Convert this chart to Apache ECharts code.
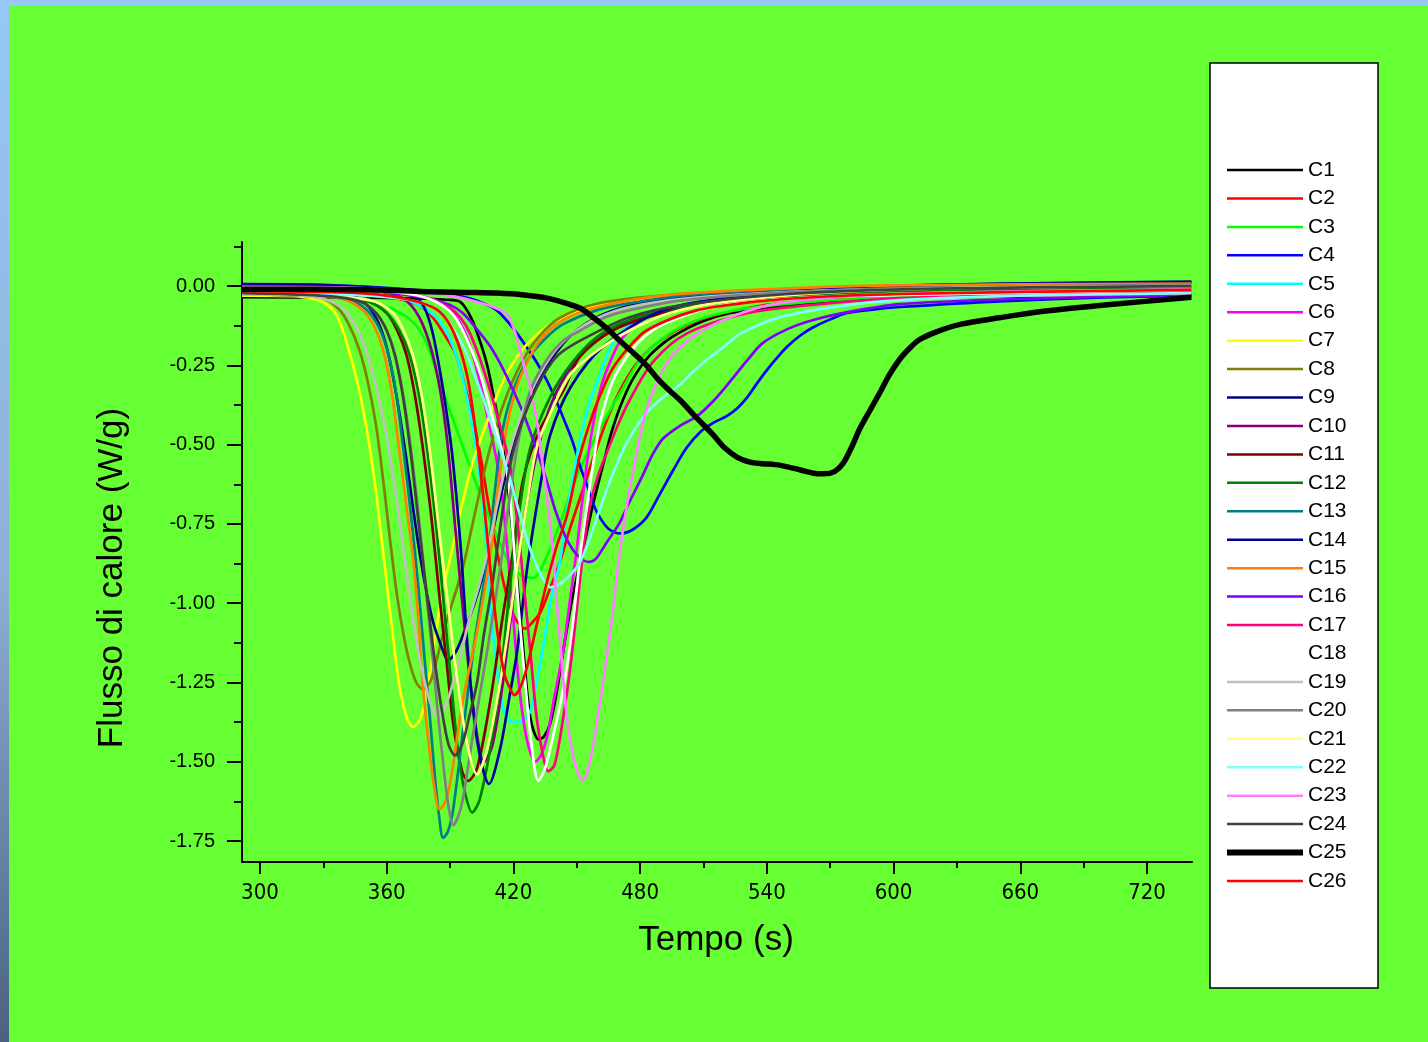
<!DOCTYPE html>
<html>
<head>
<meta charset="utf-8">
<script src="https://cdn.jsdelivr.net/npm/echarts@6/dist/echarts.min.js"></script>
<style>html,body{margin:0;padding:0;background:#66ff33;}#chart{width:1428px;height:1042px;}</style>
</head>
<body>
<div id="chart"></div>
<script>
// ---- tick values ----
const X_MAJOR = [300, 360, 420, 480, 540, 600, 660, 720];
const X_MINOR = [330, 390, 450, 510, 570, 630, 690];
const Y_MAJOR = [0, -0.25, -0.5, -0.75, -1, -1.25, -1.5, -1.75];
const Y_MINOR = [0.125, -0.125, -0.375, -0.625, -0.875, -1.125, -1.375, -1.625];

const SERIES_NAMES = ['C1','C2','C3','C4','C5','C6','C7','C8','C9','C10','C11','C12','C13',
  'C14','C15','C16','C17','C18','C19','C20','C21','C22','C23','C24','C25','C26'];

// ---- series data: [time (s), heat flow (W/g)] ----
const C1 = [[291.5,-0.035],[340,-0.036],[365,-0.038],[380,-0.04],[388,-0.043],[394.8,-0.05],[400,-0.1],[404,-0.17],[407.6,-0.25],[411,-0.36],[415,-0.5],[418.5,-0.7],[421.8,-0.93],[424.6,-1.14],[428,-1.36],[432,-1.43],[434.5,-1.42],[437.4,-1.38],[440.5,-1.28],[443.6,-1.15],[448,-0.98],[453,-0.83],[458,-0.68],[462.6,-0.56],[466.5,-0.46],[470.6,-0.38],[476,-0.3],[483,-0.23],[491,-0.18],[499,-0.145],[510,-0.11],[522.7,-0.085],[540,-0.068],[562,-0.054],[603,-0.038],[660,-0.033],[741,-0.03]];
const C2 = [[291.5,-0.016],[330,-0.018],[350,-0.025],[365,-0.04],[375,-0.06],[382,-0.1],[388,-0.16],[393,-0.22],[399.5,-0.38],[404,-0.52],[408,-0.68],[412,-0.83],[417,-0.98],[421,-1.05],[425.6,-1.08],[429,-1.06],[432.7,-1.03],[437,-0.96],[442,-0.87],[447,-0.76],[453,-0.64],[459,-0.52],[465,-0.41],[472,-0.31],[480,-0.23],[490,-0.17],[503,-0.12],[520,-0.085],[545,-0.055],[603,-0.03],[660,-0.024],[741,-0.02]];
const C3 = [[291.5,-0.02],[330,-0.025],[350,-0.04],[362,-0.07],[370,-0.1],[375.8,-0.14],[380,-0.2],[385,-0.3],[393,-0.45],[399.5,-0.57],[405,-0.67],[411,-0.77],[417,-0.86],[423,-0.91],[429.4,-0.92],[436,-0.85],[442,-0.75],[450,-0.6],[461,-0.45],[472,-0.32],[481.5,-0.22],[499,-0.13],[522,-0.08],[560,-0.05],[603,-0.035],[660,-0.03],[741,-0.025]];
const C4 = [[291.5,0.005],[340,0.0],[370,-0.01],[390,-0.025],[400,-0.04],[406,-0.055],[412,-0.076],[417,-0.11],[421.8,-0.15],[426,-0.19],[431,-0.24],[436,-0.3],[440.8,-0.37],[444.5,-0.43],[448,-0.49],[451.7,-0.57],[455,-0.63],[458,-0.69],[461,-0.73],[465,-0.765],[470.6,-0.78],[476,-0.77],[483,-0.73],[489,-0.66],[495.7,-0.58],[502,-0.51],[508.5,-0.46],[515,-0.43],[521,-0.41],[526,-0.385],[530.8,-0.35],[535,-0.31],[540,-0.265],[545,-0.225],[549.8,-0.19],[556,-0.155],[562,-0.13],[570,-0.105],[578,-0.085],[590,-0.074],[603,-0.066],[650,-0.048],[700,-0.036],[741,-0.03]];
const C5 = [[291.5,-0.02],[340,-0.022],[360,-0.03],[372,-0.05],[382,-0.09],[388,-0.14],[393.5,-0.23],[398,-0.35],[402,-0.5],[406,-0.72],[409.5,-1.03],[412.5,-1.22],[415,-1.33],[418,-1.37],[421,-1.375],[424.5,-1.37],[428,-1.34],[431,-1.25],[434,-1.14],[438,-0.98],[442,-0.87],[445,-0.73],[448,-0.61],[451.7,-0.48],[455.5,-0.38],[459.7,-0.3],[467,-0.18],[475,-0.12],[483,-0.085],[500,-0.06],[514.7,-0.044],[550,-0.025],[603,-0.006],[741,0.0]];
const C6 = [[291.5,-0.005],[340,-0.008],[360,-0.015],[375,-0.03],[385,-0.05],[392,-0.09],[398,-0.16],[403,-0.27],[408,-0.42],[413.7,-0.61],[417,-0.82],[420,-1.05],[422.5,-1.25],[425,-1.38],[427.5,-1.46],[430.3,-1.5],[433,-1.48],[436,-1.42],[439,-1.31],[443.6,-1.15],[447,-0.98],[450,-0.83],[455,-0.55],[461,-0.33],[467,-0.22],[472,-0.16],[483,-0.098],[500,-0.065],[514.7,-0.05],[560,-0.025],[603,-0.013],[741,-0.005]];
const C7 = [[291.5,-0.03],[315,-0.032],[325,-0.04],[332,-0.06],[337,-0.1],[342,-0.2],[346,-0.3],[350,-0.43],[354,-0.6],[358,-0.82],[362,-1.05],[366,-1.26],[369.5,-1.36],[372.5,-1.39],[375.5,-1.37],[378.5,-1.3],[382,-1.15],[386,-0.98],[391,-0.83],[396,-0.68],[401,-0.55],[408,-0.42],[415,-0.3],[422,-0.22],[430,-0.16],[440,-0.11],[455,-0.07],[475,-0.045],[500,-0.03],[540,-0.018],[600,-0.008],[660,-0.002],[741,0.005]];
const C8 = [[291.5,-0.02],[320,-0.025],[330,-0.038],[337,-0.07],[342,-0.12],[347,-0.2],[351,-0.3],[355,-0.44],[358.5,-0.62],[361.6,-0.8],[365,-0.98],[368,-1.1],[371,-1.19],[374,-1.25],[377,-1.27],[380.5,-1.25],[384,-1.17],[387,-1.09],[391,-1.0],[396,-0.89],[401,-0.74],[405,-0.62],[409,-0.51],[416,-0.36],[424,-0.24],[432,-0.16],[442,-0.1],[460,-0.055],[490,-0.03],[540,-0.012],[600,0.0],[741,0.008]];
const C9 = [[291.5,0.005],[320,0.0],[335,-0.01],[345,-0.03],[352,-0.07],[357,-0.13],[361,-0.22],[365,-0.36],[369,-0.53],[372.5,-0.7],[375.8,-0.85],[379,-0.97],[382,-1.06],[386.7,-1.15],[389,-1.18],[393,-1.15],[399.5,-1.04],[403.5,-0.96],[407.6,-0.86],[412,-0.72],[417,-0.58],[423,-0.44],[430,-0.32],[438,-0.23],[448,-0.15],[462,-0.09],[480,-0.055],[510,-0.03],[560,-0.01],[620,0.004],[741,0.012]];
const C10 = [[291.5,0.003],[340,-0.005],[360,-0.02],[370,-0.05],[377,-0.12],[383,-0.25],[388,-0.45],[393,-0.8],[398,-1.15],[402,-1.38],[406,-1.5],[410,-1.45],[415,-1.25],[420,-0.98],[425,-0.74],[431,-0.53],[438,-0.37],[448,-0.25],[462,-0.16],[480,-0.1],[510,-0.055],[560,-0.025],[640,-0.008],[741,0.0]];
const C11 = [[291.5,-0.02],[320,-0.025],[340,-0.035],[352,-0.05],[360,-0.085],[365,-0.14],[369.5,-0.22],[373.5,-0.35],[377.5,-0.53],[381.5,-0.75],[385,-0.98],[388.6,-1.2],[391.5,-1.38],[395.7,-1.53],[398.6,-1.56],[402.8,-1.52],[409,-1.31],[415,-1.04],[420,-0.83],[424.6,-0.61],[432.7,-0.45],[443.6,-0.33],[451.7,-0.22],[467,-0.14],[491,-0.085],[520,-0.05],[570,-0.02],[640,-0.005],[741,0.0]];
const C12 = [[291.5,-0.02],[320,-0.025],[340,-0.035],[352,-0.05],[360,-0.085],[366,-0.14],[371,-0.22],[375.5,-0.35],[379.5,-0.53],[383.5,-0.76],[387,-1.0],[390.5,-1.25],[393.5,-1.45],[396.5,-1.58],[400.5,-1.66],[404,-1.62],[409,-1.46],[413.7,-1.25],[418.5,-0.94],[423,-0.7],[428,-0.51],[437.4,-0.35],[448,-0.24],[459.7,-0.16],[475,-0.107],[500,-0.065],[540,-0.035],[600,-0.015],[741,-0.005]];
const C13 = [[291.5,-0.025],[320,-0.03],[335,-0.035],[345,-0.05],[352,-0.085],[357,-0.14],[361,-0.22],[364.5,-0.34],[368,-0.52],[371.5,-0.72],[375,-0.95],[378,-1.18],[380.6,-1.37],[383,-1.56],[385,-1.68],[386.7,-1.74],[389,-1.72],[391.5,-1.65],[396,-1.41],[401,-1.15],[404,-1.02],[407.6,-0.87],[411,-0.66],[415,-0.45],[421,-0.31],[428,-0.22],[436,-0.16],[443.6,-0.12],[460,-0.075],[475,-0.054],[500,-0.03],[550,-0.01],[620,0.0],[741,0.005]];
const C14 = [[291.5,0.006],[330,0.004],[355,-0.005],[368,-0.015],[374,-0.035],[378,-0.07],[381.5,-0.14],[384.5,-0.24],[387.5,-0.36],[391,-0.53],[395,-0.82],[399,-1.2],[403,-1.44],[408.5,-1.57],[413.7,-1.46],[418,-1.3],[421.8,-1.15],[426.5,-0.89],[432.7,-0.63],[437.4,-0.47],[447,-0.32],[462.6,-0.19],[491,-0.076],[530,-0.03],[600,0.0],[741,0.014]];
const C15 = [[291.5,-0.025],[320,-0.03],[335,-0.035],[343,-0.05],[350,-0.085],[355,-0.14],[359,-0.22],[362.5,-0.34],[366,-0.52],[369.5,-0.7],[372.5,-0.86],[375,-1.05],[377,-1.25],[380,-1.45],[382.5,-1.58],[385,-1.65],[387.5,-1.63],[390,-1.57],[396,-1.31],[402.8,-1.09],[409,-0.85],[413,-0.62],[417,-0.44],[421,-0.33],[425,-0.26],[432.7,-0.17],[443.6,-0.107],[460,-0.066],[491,-0.03],[540,-0.01],[600,0.002],[741,0.008]];
const C16 = [[291.5,0.0],[340,-0.005],[360,-0.02],[380,-0.04],[390,-0.06],[396,-0.085],[402,-0.13],[409,-0.19],[415,-0.26],[420,-0.33],[424,-0.39],[428,-0.46],[432.7,-0.55],[436,-0.62],[440,-0.71],[444,-0.78],[448,-0.83],[452,-0.86],[455.5,-0.87],[459,-0.86],[464,-0.81],[470,-0.75],[475,-0.68],[481,-0.6],[486,-0.53],[491,-0.48],[499,-0.44],[507,-0.41],[515,-0.36],[522.7,-0.3],[530,-0.24],[538,-0.18],[550,-0.135],[562,-0.107],[580,-0.08],[603,-0.057],[660,-0.04],[741,-0.028]];
const C17 = [[291.5,-0.01],[340,-0.013],[365,-0.02],[380,-0.04],[390,-0.07],[395,-0.1],[399.5,-0.15],[405.7,-0.26],[412,-0.4],[418.5,-0.57],[422,-0.75],[425,-0.95],[428,-1.15],[431,-1.36],[434,-1.48],[436.5,-1.53],[439.5,-1.51],[443.6,-1.36],[447,-1.2],[450,-1.02],[453,-0.84],[456,-0.7],[460,-0.6],[464.5,-0.52],[470,-0.43],[475,-0.36],[486,-0.24],[502,-0.15],[531,-0.085],[560,-0.06],[603,-0.038],[660,-0.03],[741,-0.025]];
const C18 = [[291.5,-0.01],[340,-0.012],[365,-0.02],[380,-0.04],[390,-0.08],[396,-0.14],[404,-0.27],[410.4,-0.42],[417,-0.59],[420,-0.8],[422.5,-1.02],[425.6,-1.25],[428.5,-1.44],[431.8,-1.56],[434.5,-1.53],[437.4,-1.46],[443.6,-1.27],[448,-1.07],[452,-0.83],[455.5,-0.66],[458.5,-0.53],[461,-0.43],[467,-0.3],[474,-0.22],[482,-0.16],[491,-0.12],[514.7,-0.066],[550,-0.04],[603,-0.028],[741,-0.012]];
const C19 = [[291.5,-0.025],[320,-0.03],[330,-0.04],[338,-0.065],[344,-0.11],[349,-0.18],[354,-0.29],[359,-0.44],[364,-0.64],[368.5,-0.86],[372.5,-1.05],[376,-1.19],[380.5,-1.31],[384,-1.36],[387.5,-1.33],[391.5,-1.25],[395.5,-1.15],[399.5,-1.04],[403.5,-0.95],[407,-0.86],[412,-0.7],[417,-0.55],[423,-0.42],[430,-0.31],[439,-0.21],[448,-0.15],[460,-0.1],[475,-0.066],[500,-0.04],[550,-0.018],[620,-0.006],[741,0.0]];
const C20 = [[291.5,-0.02],[320,-0.025],[337,-0.035],[348,-0.05],[355,-0.085],[360,-0.14],[364,-0.22],[368,-0.35],[372,-0.54],[376,-0.78],[380,-1.05],[384,-1.33],[387.5,-1.55],[389.5,-1.65],[391.5,-1.7],[394,-1.67],[396,-1.62],[401,-1.41],[407.6,-1.15],[413.7,-0.89],[418,-0.68],[422,-0.5],[428,-0.33],[436,-0.23],[444,-0.17],[451.7,-0.14],[463,-0.1],[475,-0.076],[500,-0.045],[550,-0.02],[620,-0.005],[741,0.005]];
const C21 = [[291.5,-0.02],[320,-0.025],[342,-0.035],[355,-0.05],[363,-0.085],[368,-0.14],[372.5,-0.22],[377,-0.36],[381,-0.55],[385,-0.78],[389,-1.0],[393,-1.22],[398,-1.44],[402.8,-1.54],[407.6,-1.46],[413.7,-1.25],[418.5,-1.04],[423,-0.83],[427,-0.66],[431,-0.51],[438.9,-0.38],[448,-0.27],[462.6,-0.19],[475,-0.14],[494,-0.085],[520,-0.05],[570,-0.02],[640,-0.005],[741,0.0]];
const C22 = [[291.5,-0.025],[340,-0.028],[360,-0.035],[375,-0.05],[385,-0.08],[392,-0.14],[397,-0.2],[401,-0.27],[405.5,-0.35],[410.4,-0.45],[414.5,-0.53],[418.5,-0.61],[423,-0.72],[428,-0.83],[433,-0.91],[437.5,-0.95],[442,-0.94],[447,-0.91],[451.7,-0.87],[458,-0.76],[466,-0.61],[474,-0.49],[483,-0.4],[491,-0.35],[499,-0.31],[505,-0.27],[512,-0.23],[520,-0.19],[527.5,-0.15],[546.4,-0.098],[578,-0.06],[603,-0.044],[660,-0.03],[741,-0.022]];
const C23 = [[291.5,-0.003],[340,-0.005],[370,-0.015],[390,-0.03],[400,-0.045],[410,-0.065],[417,-0.09],[421,-0.15],[424.6,-0.24],[428,-0.32],[431,-0.42],[434,-0.57],[437.4,-0.75],[440,-0.95],[442.5,-1.15],[445.5,-1.37],[449,-1.5],[452.6,-1.56],[455.5,-1.52],[459.7,-1.37],[463.5,-1.2],[467,-1.03],[470,-0.86],[473,-0.72],[476.8,-0.58],[483,-0.39],[493,-0.24],[505,-0.16],[522.7,-0.098],[546,-0.054],[603,-0.025],[741,-0.01]];
const C24 = [[291.5,-0.022],[320,-0.027],[337,-0.035],[348,-0.05],[355,-0.085],[360,-0.14],[364,-0.22],[368,-0.36],[372,-0.56],[376,-0.8],[380,-1.03],[383.5,-1.22],[386.7,-1.36],[389.5,-1.45],[392.4,-1.48],[396,-1.44],[399,-1.36],[402.8,-1.25],[406,-1.1],[410,-0.94],[414,-0.75],[418,-0.58],[423,-0.45],[431,-0.32],[440.8,-0.22],[455,-0.16],[475,-0.098],[500,-0.06],[550,-0.025],[620,-0.008],[741,0.0]];
const C25 = [[291.5,-0.01],[330,-0.01],[360,-0.013],[380.6,-0.018],[400,-0.02],[412,-0.022],[425,-0.028],[436,-0.038],[444,-0.052],[451.7,-0.07],[458,-0.1],[464.5,-0.135],[470,-0.17],[475,-0.2],[483,-0.25],[488,-0.29],[494,-0.33],[499,-0.36],[506,-0.41],[514.7,-0.47],[520,-0.51],[526,-0.54],[532,-0.555],[538,-0.56],[544,-0.563],[549.8,-0.57],[556,-0.58],[562,-0.59],[567,-0.592],[572,-0.585],[576,-0.56],[580,-0.51],[584,-0.45],[589,-0.39],[594,-0.33],[598,-0.28],[603,-0.23],[607,-0.2],[612,-0.17],[620,-0.145],[632,-0.12],[650,-0.1],[670,-0.08],[700,-0.06],[741,-0.035]];
const C26 = [[291.5,-0.016],[340,-0.02],[360,-0.03],[375,-0.05],[385,-0.08],[392,-0.15],[398,-0.28],[402,-0.45],[406,-0.68],[409.5,-0.92],[413,-1.12],[416,-1.23],[418.5,-1.27],[420.5,-1.29],[423,-1.27],[426.5,-1.2],[431,-1.07],[436,-0.93],[440.5,-0.82],[445.5,-0.72],[451.7,-0.53],[457.8,-0.4],[462,-0.33],[467,-0.26],[475,-0.19],[483,-0.14],[500,-0.09],[514.7,-0.066],[550,-0.04],[603,-0.025],[741,-0.012]];

const SERIES_DATA = [C1,C2,C3,C4,C5,C6,C7,C8,C9,C10,C11,C12,C13,C14,C15,C16,C17,C18,C19,C20,C21,C22,C23,C24,C25,C26];

// ---- styles ----
const COLORS = ['#000000','#ff0000','#00ff00','#0000ff','#00ffff','#ff00ff','#ffff00','#808000',
  '#000080','#800080','#800000','#008000','#008080','#0000a0','#ff8000','#8000ff','#ff0080',
  '#ffffff','#c0c0c0','#808080','#ffff80','#80ffff','#ff80ff','#404040','#000000','#ff0000'];

const chart = echarts.init(document.getElementById('chart'), null, {renderer: 'canvas'});

const series = SERIES_NAMES.map((name, i) => ({
  name: name,
  type: 'line',
  data: SERIES_DATA[i],
  xAxisIndex: 0,
  yAxisIndex: 0,
  symbol: 'none',
  showSymbol: false,
  smooth: 0.3,
  clip: true,
  lineStyle: {color: COLORS[i], width: name === 'C25' ? 5.5 : 2.7},
  itemStyle: {color: COLORS[i]},
  emphasis: {disabled: true},
  z: name === 'C25' ? 3 : 2
}));

const fontMain = 'Liberation Sans, Arial, sans-serif';

const option = {
  backgroundColor: '#66ff33',
  animation: false,
  grid: {left: 242, top: 242, width: 950, height: 620, containLabel: false},
  xAxis: [{
    type: 'value', min: 291.5, max: 741.3, position: 'bottom',
    axisLine: {show: true, onZero: false, lineStyle: {color: '#000', width: 2}},
    axisTick: {show: true, customValues: X_MAJOR, length: 12, inside: false, lineStyle: {color: '#000', width: 2}},
    axisLabel: {show: true, customValues: X_MAJOR, margin: 20, color: '#000',
      fontFamily: 'Liberation Sans Narrow, DejaVu Sans Condensed, sans-serif', fontSize: 22},
    splitLine: {show: false}
  }, {
    type: 'value', min: 291.5, max: 741.3, position: 'bottom',
    axisLine: {show: false, onZero: false},
    axisTick: {show: true, customValues: X_MINOR, length: 6, lineStyle: {color: '#000', width: 2}},
    axisLabel: {show: false},
    splitLine: {show: false}
  }],
  yAxis: [{
    type: 'value', min: -1.816, max: 0.139, position: 'left',
    axisLine: {show: true, onZero: false, lineStyle: {color: '#000', width: 2}},
    axisTick: {show: true, customValues: Y_MAJOR, length: 15, lineStyle: {color: '#000', width: 2}},
    axisLabel: {show: true, customValues: Y_MAJOR, margin: 27, color: '#000',
      fontFamily: fontMain, fontSize: 20, formatter: v => Number(v).toFixed(2)},
    splitLine: {show: false}
  }, {
    type: 'value', min: -1.816, max: 0.139, position: 'left',
    axisLine: {show: false, onZero: false},
    axisTick: {show: true, customValues: Y_MINOR, length: 8, lineStyle: {color: '#000', width: 2}},
    axisLabel: {show: false},
    splitLine: {show: false}
  }],
  legend: {
    show: true,
    orient: 'vertical',
    left: 1224, top: 159.5,
    itemWidth: 76, itemHeight: 14, itemGap: 7.44,
    padding: 0,
    selectedMode: false,
    itemStyle: {opacity: 0},
    data: SERIES_NAMES.map(n => ({
      name: n,
      itemStyle: {opacity: 0},
      lineStyle: {width: n === 'C25' ? 6 : 2.5}
    })),
    textStyle: {color: '#000', fontSize: 21, lineHeight: 20, fontFamily: fontMain},
    z: 10
  },
  graphic: [
    {type: 'rect', z: -10, shape: {x: 0, y: 0, width: 1428, height: 6}, style: {fill: '#96c8f8'}, silent: true},
    {type: 'rect', z: -10, shape: {x: 0, y: 0, width: 9, height: 1042},
      style: {fill: new echarts.graphic.LinearGradient(0, 0, 0, 1, [
        {offset: 0, color: '#96c8f8'}, {offset: 0.55, color: '#8fb0d6'}, {offset: 1, color: '#4a6282'}])}, silent: true},
    {type: 'rect', z: 1, shape: {x: 1210, y: 63, width: 168, height: 925},
      style: {fill: '#ffffff', stroke: '#000', lineWidth: 1.5}, silent: true},
    {type: 'text', z: 5, x: 716, y: 940,
      style: {text: 'Tempo (s)', fontSize: 35, fontFamily: fontMain, fill: '#000',
        align: 'center', verticalAlign: 'middle'}},
    {type: 'text', z: 5, x: 112, y: 578, rotation: Math.PI / 2,
      style: {text: 'Flusso di calore (W/g)', fontSize: 35, fontFamily: fontMain, fill: '#000',
        align: 'center', verticalAlign: 'middle'}}
  ],
  series: series
};

chart.setOption(option);
</script>
</body>
</html>
